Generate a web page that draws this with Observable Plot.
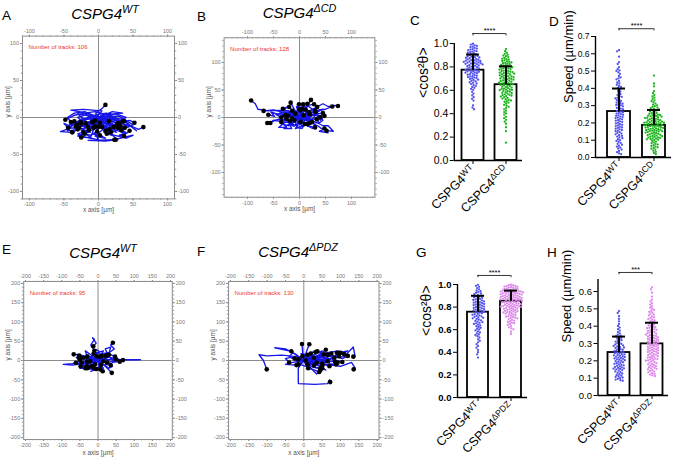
<!DOCTYPE html>
<html><head><meta charset="utf-8">
<script src="https://cdn.jsdelivr.net/npm/d3@7"></script>
<script src="https://cdn.jsdelivr.net/npm/@observablehq/plot@0.6"></script>
<style>
body{margin:0;background:#fff;}
#fig{position:relative;width:677px;height:460px;font-family:"Liberation Sans",Arial,sans-serif;overflow:hidden;background:#fff}
#fig svg{position:absolute;overflow:visible}
.lbl{position:absolute;font-size:13.5px;line-height:1;color:#000}
.ttl{position:absolute;font-size:15px;font-style:italic;line-height:1;transform:translateX(-50%);white-space:nowrap}
.ttl span{position:relative;top:-0.55em;font-size:0.72em}
</style></head><body><div id="fig"></div>
<script>
const FONT = '"Liberation Sans", Arial, sans-serif';
// ---------- data: track plots (µm) ----------
const trackCounts = [106, 128, 95, 130];
const tracksA = [
 [[0,0],[8,5],[-5,8],[-20,6],[-35,3],[-48,-3]],
 [[0,0],[5,-4],[20,-2],[35,-6],[45,-4],[52,-7]],
 [[0,0],[12,-3],[30,-8],[48,-12],[58,-16],[65,-13]],
 [[0,0],[-4,6],[5,12],[10,17]],
 [[0,0],[-10,-5],[-25,-10],[-30,-16],[-38,-20]],
 [[0,0],[10,-8],[25,-14],[40,-20],[30,-24],[37,-25]],
 [[0,0],[-8,-10],[-18,-18],[-30,-22],[-20,-26],[-25,-27]],
 [[0,0],[6,-12],[15,-20],[28,-30],[10,-32],[-15,-31],[25,-30]],
 [[0,0],[-6,-8],[-20,-12],[-33,-12]],
 [[0,0],[15,2],[28,-3],[35,-5]],
 [[0,0],[-12,4],[-28,8],[-40,10],[-22,11],[5,9],[-8,-6]],
 [[0,0],[20,8],[35,6],[15,4],[22,-13]],
 [[0,0],[-5,-15],[-15,-13]],
 [[0,0],[4,-10],[5,-13]],
 [[0,0],[-15,-20],[-30,-25],[-10,-28],[-22,-20]],
 [[0,0],[12,-10],[25,-12],[33,-17]],
 [[0,0],[-20,-3],[-35,-8],[-45,-18],[-30,-16]],
 [[0,0],[10,-15],[20,-18],[10,-18]],
 [[0,0],[30,2],[50,-10],[40,-14],[32,-12]],
 [[0,0],[-10,2],[-25,-4],[-5,-12]],
 [[0,0],[18,-5],[27,-8]],
 [[0,0],[-20,-15],[-40,-14],[-55,-19],[-38,-20]],
 [[0,0],[15,-22],[40,-28],[50,-24],[23,-30]],
 [[0,0],[-2,-20],[-12,-24],[-20,-22]],
 [[0,0],[8,4],[18,6],[15,-5]],
 [[0,0],[-30,5],[-15,-8],[-9,-6]],
 [[0,0],[25,-18],[18,-20]],
 [[0,0],[-12,-28],[0,-30],[-5,-22],[0,-13]],
 [[0,0],[35,-2],[55,-18],[37,-5]],
 [[0,0],[-25,-12],[-31,-10]],
 [[0,0],[-15,5],[-30,0],[-20,-8],[-35,-5]],
 [[0,0],[10,5],[25,0],[12,-8],[28,-10]],
 [[0,0],[-8,-3],[-22,-10],[-10,-15],[-18,-8]],
 [[0,0],[6,-6],[18,-12],[8,-20],[20,-24],[12,-22]],
 [[0,0],[-12,-6],[-25,-18],[-12,-20],[-28,-14]],
 [[0,0],[15,-3],[5,-10],[22,-16],[30,-8]],
 [[0,0],[-5,3],[-18,-2],[-32,-6],[-42,-10],[-25,-8]],
 [[0,0],[20,-10],[35,-18],[42,-10],[28,-14]],
 [[0,0],[-10,-10],[0,-18],[-8,-22],[4,-25],[-2,-19]],
 [[0,0],[12,6],[-2,4],[-15,1],[-5,-4]],
 [[0,0],[25,5],[40,0],[30,-6],[45,-12],[38,-14]],
 [[0,0],[-20,8],[-35,6],[-45,0],[-40,-6]],
 [[0,0],[8,-15],[-5,-25],[10,-28],[2,-24]],
 [[0,0],[-18,-8],[-6,-16],[-24,-22],[-14,-17]],
 [[0,0],[18,-8],[10,-14],[26,-20],[16,-16]],
 [[0,0],[-25,-2],[-40,-12],[-50,-8],[-44,-14]],
 [[0,0],[10,-2],[-5,-8],[12,-12],[2,-7]],
 [[0,0],[-3,-5],[-12,-2],[-2,-10],[-7,-14]],
 [[0,0],[30,-5],[20,-15],[40,-22],[45,-18]],
 [[0,0],[-15,-12],[-30,-8],[-18,-3],[-26,-6]]
];
const tracksB = [
 [[0,0],[-20,12],[-40,13],[-60,12],[-80,15],[-85,25],[-93,31]],
 [[0,0],[-25,8],[-50,14],[-69,12]],
 [[0,0],[-20,-5],[-40,-3],[-55,-8],[-62,-10]],
 [[0,0],[-15,-10],[-30,-8],[-50,-5],[-56,-10]],
 [[0,0],[-10,15],[-17,27]],
 [[0,0],[-5,12],[-1,24]],
 [[0,0],[5,15],[7,24]],
 [[0,0],[15,20],[22,32]],
 [[0,0],[20,10],[34,19]],
 [[0,0],[25,15],[45,25],[55,20],[63,20]],
 [[0,0],[30,12],[50,15],[68,22],[74,21]],
 [[0,0],[20,-5],[35,-10],[45,-15],[55,-15],[65,-25],[52,-24]],
 [[0,0],[15,-5],[30,-2],[40,1]],
 [[0,0],[20,5],[45,8]],
 [[0,0],[10,-5],[24,-8]],
 [[0,0],[5,2],[8,4]],
 [[0,0],[-5,5],[-8,7]],
 [[0,0],[-15,3],[-27,4]],
 [[0,0],[-10,-2],[-14,-2]],
 [[0,0],[1,8],[2,13]],
 [[0,0],[10,7],[18,10]],
 [[0,0],[20,8],[31,10]],
 [[0,0],[-10,10],[-20,19]],
 [[0,0],[8,12],[15,25]],
 [[0,0],[-12,-8],[-25,-15],[-30,-20],[-15,-20],[-20,-10],[-5,-15],[-10,-5]],
 [[0,0],[-20,-15],[-35,-12],[-35,-5],[-25,-2]],
 [[0,0],[15,-15],[25,-20],[30,-12],[20,-10]],
 [[0,0],[35,5],[45,-5],[38,-10],[33,-3]],
 [[0,0],[-30,10],[-45,5],[-35,0]],
 [[0,0],[-5,-18],[5,-20],[10,-12]],
 [[0,0],[-15,8],[-30,15],[-20,20],[-32,16]],
 [[0,0],[12,8],[25,15],[15,22],[28,24]],
 [[0,0],[-8,-8],[-20,-12],[-10,-16],[-18,-6]],
 [[0,0],[10,-10],[25,-8],[15,-15],[30,-18]],
 [[0,0],[-20,5],[-10,-5],[-30,-5],[-22,3]],
 [[0,0],[20,0],[30,8],[40,-5],[48,3]],
 [[0,0],[5,10],[-5,18],[10,20],[0,15]],
 [[0,0],[-5,-10],[8,-15],[-8,-20],[2,-8]],
 [[0,0],[15,10],[5,5],[22,4],[12,14]],
 [[0,0],[-12,2],[-25,10],[-38,8],[-28,4]],
 [[0,0],[25,-3],[35,10],[45,15],[30,12]],
 [[0,0],[-10,12],[0,8],[-6,20],[6,16]],
 [[0,0],[-30,-10],[-40,-18],[-25,-18],[-35,-8]],
 [[0,0],[8,-3],[18,-2],[10,5],[20,6]],
 [[0,0],[-18,-3],[-8,5],[-22,8],[-14,12]],
 [[0,0],[35,-15],[45,-22],[38,-25],[55,-28],[48,-20]],
 [[0,0],[-40,5],[-55,10],[-48,2],[-60,5]],
 [[0,0],[2,-5],[12,-3],[6,-10],[16,-12]]
];
const tracksE = [
 [[0,0],[-20,5],[-35,10],[-50,15],[-67,16]],
 [[0,0],[-25,-5],[-45,-8],[-61,-6]],
 [[0,0],[-20,3],[-40,8],[-53,7]],
 [[0,0],[-15,-10],[-31,-15]],
 [[0,0],[-10,-12],[-27,-19]],
 [[0,0],[-8,-8],[-18,-15]],
 [[0,0],[-5,-6],[-8,-10]],
 [[0,0],[-2,5],[-4,11]],
 [[0,0],[10,8],[24,13]],
 [[0,0],[8,-2],[15,-2]],
 [[0,0],[-5,20],[-20,40],[-10,55],[-15,59],[-5,45],[-13,37]],
 [[0,0],[15,10],[30,20],[45,30],[35,40],[41,46]],
 [[0,0],[20,5],[35,15],[47,10]],
 [[0,0],[40,3],[80,2],[117,2],[69,1]],
 [[0,0],[20,-15],[38,-32]],
 [[0,0],[5,-15],[13,-28]],
 [[0,0],[-40,-8],[-70,-12],[-96,-10],[-70,-8],[-50,0],[-41,7]],
 [[0,0],[-30,10],[-52,13]],
 [[0,0],[3,-12],[6,-23]],
 [[0,0],[-10,2],[-22,-2]],
 [[0,0],[15,-10],[30,-20],[40,-15],[25,-5]],
 [[0,0],[25,20],[20,30],[35,35],[30,15]],
 [[0,0],[-30,-10],[-50,-20],[-35,-20]],
 [[0,0],[10,15],[-5,20],[15,25],[5,10]],
 [[0,0],[-20,15],[-35,25],[-30,10]],
 [[0,0],[-20,10],[-35,0],[-25,-10],[-45,-5]],
 [[0,0],[15,5],[30,0],[20,-10],[35,-12]],
 [[0,0],[-10,-5],[-25,-15],[-15,-22],[-30,-20]],
 [[0,0],[5,10],[-10,15],[-20,8],[-12,18]],
 [[0,0],[-30,5],[-45,12],[-60,8],[-50,2]],
 [[0,0],[10,-8],[0,-18],[15,-20],[8,-12]],
 [[0,0],[-15,0],[-5,-10],[-20,-12],[-10,-20]],
 [[0,0],[20,10],[10,18],[30,20],[22,12]],
 [[0,0],[-40,-2],[-55,-8],[-35,-12],[-48,-15]],
 [[0,0],[25,-5],[45,-2],[35,5],[50,3]],
 [[0,0],[-8,15],[5,22],[-3,28],[-10,25]],
 [[0,0],[-25,-20],[-10,-25],[-20,-28],[-5,-22]],
 [[0,0],[12,0],[5,6],[18,5],[10,12]],
 [[0,0],[-18,5],[-28,15],[-38,5],[-30,-3]],
 [[0,0],[30,8],[55,5],[40,-5],[60,-3]]
];
const tracksF = [
 [[0,0],[-20,15],[-50,30],[-79,33],[-34,24]],
 [[0,0],[-20,10],[-60,14],[-100,12],[-122,15],[-110,0],[-101,-23]],
 [[0,0],[-3,20],[-5,43]],
 [[0,0],[8,25],[15,42]],
 [[0,0],[10,-20],[30,-25],[42,-30]],
 [[0,0],[-15,-20],[-15,-60],[30,-62],[65,-60],[70,-50],[72,-56]],
 [[0,0],[-8,-5],[-15,-10]],
 [[0,0],[-8,2],[-15,3]],
 [[0,0],[5,-5],[10,-10]],
 [[0,0],[15,-8],[28,-13]],
 [[0,0],[30,-10],[51,-13]],
 [[0,0],[40,10],[70,5],[83,7]],
 [[0,0],[50,15],[80,12],[96,11]],
 [[0,0],[60,-5],[90,0],[105,-4]],
 [[0,0],[60,20],[95,25],[110,16]],
 [[0,0],[30,10],[55,16]],
 [[0,0],[20,20],[37,24]],
 [[0,0],[10,12],[19,18]],
 [[0,0],[40,0],[65,-2]],
 [[0,0],[-2,8],[-4,11]],
 [[0,0],[3,1],[5,0]],
 [[0,0],[15,5],[28,7]],
 [[0,0],[50,-8],[80,-12],[92,-6]],
 [[0,0],[70,5],[110,10],[135,35],[140,10],[135,10]],
 [[0,0],[60,-10],[100,-15],[130,-5],[140,-20],[136,-23]],
 [[0,0],[-30,-5],[-50,-10],[-20,-12]],
 [[0,0],[20,-20],[35,-35],[45,-25]],
 [[0,0],[-30,20],[-40,10],[-25,5]],
 [[0,0],[100,15],[120,25],[90,20]],
 [[0,0],[45,-15],[60,-25],[50,-20]],
 [[0,0],[20,10],[40,5],[30,-5],[50,-8]],
 [[0,0],[15,-5],[35,-10],[25,-18],[45,-20]],
 [[0,0],[30,15],[50,25],[45,10],[65,15]],
 [[0,0],[10,5],[25,15],[15,20],[32,22]],
 [[0,0],[40,5],[60,-5],[75,5],[85,-3]],
 [[0,0],[-10,5],[5,12],[-8,18],[10,15]],
 [[0,0],[20,-15],[40,-20],[55,-10],[70,-15]],
 [[0,0],[50,10],[70,20],[85,10],[100,20]],
 [[0,0],[-10,-10],[5,-15],[20,-8],[12,-20]],
 [[0,0],[25,0],[45,12],[60,5],[75,18]],
 [[0,0],[35,-5],[55,5],[70,-8],[88,-10]],
 [[0,0],[15,15],[30,5],[48,20],[60,28]],
 [[0,0],[-20,0],[-35,8],[-50,5],[-40,-5]],
 [[0,0],[60,0],[85,10],[105,5],[120,12]],
 [[0,0],[10,-3],[22,2],[18,-8],[35,-5]]
];
const ticksAB = [-100, -50, 0, 50, 100];
const ticksEF = [-200, -150, -100, -50, 0, 50, 100, 150, 200];

// ---------- data: bar / dot plots ----------
const catsCD = ["CSPG4^WT", "CSPG4^ΔCD"];
const catsPDZ = ["CSPG4^WT", "CSPG4^ΔPDZ"];
const cWT = [0.998,0.991,0.984,0.979,0.973,0.968,0.962,0.957,
0.952,0.948,0.944,0.939,0.934,0.931,0.926,0.921,0.917,0.912,0.906,0.902,
0.898,0.894,0.891,0.887,0.884,0.881,0.878,0.874,0.871,0.868,0.864,0.861,0.858,0.855,0.853,0.851,
0.848,0.846,0.843,0.841,0.838,0.836,0.833,0.831,0.828,0.826,0.823,0.821,0.818,0.815,0.812,0.809,0.806,0.803,
0.798,0.795,0.791,0.787,0.784,0.781,0.777,0.774,0.771,0.768,0.764,0.761,0.758,0.755,0.752,0.751,
0.746,0.742,0.737,0.733,0.729,0.725,0.721,0.717,0.713,0.709,0.705,0.701,
0.697,0.691,0.686,0.681,0.676,0.669,0.664,0.658,0.653,
0.645,0.637,0.629,0.621,0.612,0.604,
0.587,0.572,0.556,0.541,0.527,0.512,
0.471,0.452,0.438];
const cCD = [0.952,0.934,0.921,0.912,0.903,
0.897,0.891,0.884,0.876,0.871,0.866,0.862,0.856,0.851,
0.847,0.843,0.838,0.834,0.831,0.827,0.823,0.818,0.814,0.811,0.806,0.803,0.801,
0.797,0.794,0.791,0.787,0.783,0.781,0.777,0.773,0.769,0.766,0.763,0.759,0.756,0.753,0.751,
0.748,0.745,0.742,0.738,0.735,0.732,0.728,0.725,0.722,0.719,0.716,0.713,0.709,0.706,0.703,0.701,
0.697,0.694,0.691,0.688,0.685,0.682,0.678,0.675,0.672,0.668,0.665,0.662,0.659,0.656,0.653,0.651,
0.647,0.643,0.639,0.635,0.631,0.627,0.623,0.619,0.615,0.612,0.608,0.605,0.603,0.601,
0.596,0.592,0.588,0.584,0.579,0.575,0.571,0.566,0.562,0.558,0.554,0.551,
0.546,0.541,0.535,0.529,0.524,0.518,0.513,0.507,0.502,
0.494,0.487,0.476,0.468,0.459,0.448,0.437,0.426,0.414,0.403,
0.392,0.373,0.362,0.348,0.332,0.314,
0.284,0.251,0.152];
const dWT = [0.621,0.614,0.583,0.552,
0.541,0.523,0.512,0.504,0.501,
0.493,0.484,0.472,0.463,0.458,0.452,
0.443,0.434,0.428,0.421,0.414,0.408,0.402,
0.394,0.386,0.381,0.373,0.366,0.361,0.354,0.351,
0.346,0.342,0.336,0.332,0.327,0.323,0.318,0.314,0.311,0.307,0.303,0.301,
0.296,0.292,0.287,0.283,0.279,0.274,0.268,0.265,0.261,0.257,0.254,0.251,
0.247,0.244,0.241,0.237,0.234,0.231,0.228,0.224,0.221,0.216,0.213,0.209,0.205,0.201,
0.197,0.193,0.189,0.186,0.182,0.178,0.174,0.171,0.167,0.163,0.159,0.155,0.152,
0.147,0.142,0.138,0.134,0.129,0.125,0.121,0.116,0.112,0.106,0.101,
0.096,0.091,0.085,0.079,0.074,0.068,0.063,0.057,0.052,
0.046,0.038,0.031,0.024,0.019];
const dCD = [0.474,0.428,0.412,
0.384,0.372,0.361,0.353,
0.346,0.338,0.331,0.326,0.319,0.312,0.306,0.302,
0.297,0.293,0.289,0.285,0.281,0.278,0.274,0.271,0.267,0.263,0.259,0.256,0.253,0.251,
0.248,0.246,0.244,0.242,0.240,0.238,0.236,0.234,0.232,0.230,0.228,0.226,0.224,0.222,0.220,0.218,0.216,0.214,0.212,0.210,0.208,0.207,0.205,0.204,0.203,0.202,0.201,
0.199,0.197,0.196,0.194,0.193,0.191,0.189,0.188,0.186,0.184,0.183,0.181,0.179,0.178,0.176,0.175,0.173,0.171,0.169,0.168,0.166,0.164,0.163,0.161,0.159,0.158,0.156,0.155,0.153,0.152,0.151,
0.148,0.146,0.144,0.142,0.139,0.137,0.135,0.133,0.131,0.129,0.127,0.125,0.123,0.121,0.119,0.117,0.115,0.113,0.111,0.109,0.107,0.105,0.103,0.101,
0.097,0.092,0.088,0.083,0.079,0.075,0.071,0.067,0.063,0.059,0.055,0.051,
0.046,0.039,0.033,0.026,0.019];
const gWT = [0.997,0.988,0.979,0.968,0.957,
0.948,0.941,0.933,0.927,0.921,0.914,0.908,0.902,
0.896,0.891,0.887,0.882,0.877,0.872,0.868,0.863,0.859,0.855,0.851,
0.847,0.843,0.839,0.836,0.832,0.828,0.824,0.821,0.817,0.813,0.809,0.805,0.801,
0.797,0.793,0.789,0.786,0.782,0.778,0.774,0.771,0.767,0.763,0.759,0.755,0.751,
0.746,0.741,0.737,0.732,0.727,0.723,0.718,0.714,0.709,0.705,0.701,
0.695,0.689,0.683,0.678,0.672,0.667,0.661,0.656,0.651,
0.645,0.638,0.631,0.624,0.617,0.609,0.602,
0.594,0.585,0.576,0.567,0.558,0.551,
0.542,0.531,0.515,0.502,0.488,0.472,0.456,
0.441,0.422,0.401,0.382,0.353];
const gPDZ = [0.998,0.994,0.991,0.988,0.985,0.982,0.979,0.976,0.973,0.970,0.967,0.964,0.961,0.958,0.955,0.952,
0.949,0.947,0.945,0.943,0.941,0.939,0.937,0.935,0.933,0.931,0.929,0.927,0.925,0.923,0.921,0.919,0.917,0.915,0.913,0.911,0.909,0.906,0.904,0.902,
0.899,0.897,0.895,0.893,0.891,0.889,0.887,0.885,0.883,0.881,0.879,0.877,0.875,0.873,0.871,0.869,0.867,0.865,0.863,0.861,0.859,0.856,0.854,0.851,
0.848,0.846,0.843,0.841,0.838,0.836,0.833,0.831,0.828,0.826,0.823,0.821,0.818,0.816,0.813,0.811,0.809,0.807,0.805,0.803,0.802,0.801,
0.797,0.794,0.791,0.788,0.785,0.782,0.779,0.776,0.773,0.770,0.767,0.764,0.761,0.758,0.755,0.753,0.751,
0.746,0.741,0.737,0.733,0.728,0.724,0.719,0.715,0.711,0.707,0.704,0.701,
0.694,0.687,0.681,0.675,0.668,0.662,0.657,0.651,
0.643,0.632,0.621,0.612,0.603,0.584,0.563];
const hWT = [0.487,0.476,0.458,
0.442,0.428,0.413,0.401,
0.392,0.383,0.374,0.366,0.358,0.351,
0.346,0.342,0.337,0.333,0.328,0.324,0.319,0.315,0.311,0.306,0.302,
0.298,0.295,0.292,0.289,0.286,0.283,0.280,0.277,0.274,0.271,0.267,0.264,0.261,0.258,0.255,0.252,
0.249,0.247,0.244,0.242,0.239,0.237,0.234,0.232,0.229,0.227,0.224,0.222,0.219,0.217,0.214,0.212,0.209,0.207,0.204,0.201,
0.198,0.195,0.192,0.189,0.186,0.183,0.180,0.177,0.174,0.171,0.168,0.165,0.162,0.159,0.157,0.155,0.153,0.151,
0.147,0.143,0.139,0.135,0.131,0.127,0.123,0.119,0.115,0.111,0.107,0.104,0.101,
0.096,0.092,0.088,0.085];
const hPDZ = [0.624,0.612,0.593,0.571,0.553,
0.543,0.532,0.524,0.515,0.507,0.501,
0.494,0.489,0.483,0.478,0.472,0.467,0.462,0.456,0.451,
0.446,0.442,0.438,0.434,0.429,0.425,0.421,0.417,0.413,0.409,0.405,0.401,
0.397,0.394,0.391,0.388,0.385,0.382,0.379,0.376,0.373,0.369,0.366,0.363,0.360,0.357,0.354,0.351,
0.348,0.346,0.343,0.341,0.338,0.336,0.333,0.331,0.328,0.326,0.323,0.321,0.318,0.316,0.313,0.311,0.308,0.306,0.303,0.301,
0.298,0.296,0.293,0.291,0.288,0.286,0.283,0.281,0.278,0.276,0.273,0.271,0.268,0.266,0.263,0.261,0.258,0.256,0.253,0.251,
0.247,0.244,0.241,0.238,0.236,0.233,0.230,0.227,0.224,0.222,0.219,0.216,0.213,0.210,0.208,0.205,0.203,0.201,
0.197,0.193,0.190,0.187,0.183,0.180,0.177,0.173,0.170,0.167,0.163,0.160,0.157,0.154,0.151,
0.146,0.142,0.138,0.134,0.129,0.125,0.121,0.116,0.112];
const meansC = [0.772, 0.648], sdsC = [0.134, 0.157];
const meansD = [0.266, 0.186], sdsD = [0.133, 0.089];
const meansG = [0.755, 0.852], sdsG = [0.145, 0.094];
const meansH = [0.248, 0.298], sdsH = [0.092, 0.122];
const ticksCG = [0, 0.2, 0.4, 0.6, 0.8, 1.0];
const ticksD = [0, 0.1, 0.2, 0.3, 0.4, 0.5, 0.6, 0.7];
const ticksH = [0, 0.1, 0.2, 0.3, 0.4, 0.5, 0.6];

// ---------- helpers ----------
const fig = document.getElementById("fig");
const SVGNS = "http://www.w3.org/2000/svg";
function place(svg, left, top) {
  svg.style.left = left + "px"; svg.style.top = top + "px";
  fig.appendChild(svg);
}
function supify(svg) {
  svg.querySelectorAll("text").forEach(t => {
    if (t.children.length || !t.textContent.includes("^")) return;
    const [a, b] = t.textContent.split("^");
    t.textContent = a;
    const ts = document.createElementNS(SVGNS, "tspan");
    ts.setAttribute("dy", "-0.45em");
    ts.style.fontSize = "0.7em";
    ts.textContent = b;
    t.appendChild(ts);
  });
}
function trackPanel(o) {
  const pts = o.tracks.flatMap((t, i) => t.map(([x, y]) => ({id: i, x, y})));
  const ends = o.tracks.map(t => ({x: t[t.length - 1][0], y: t[t.length - 1][1]}));
  const ax = {tickSize: 2, tickPadding: 1.5, fontSize: 5.5, color: "#777", label: null, tickFormat: d => String(d)};
  const mn = {tickSize: 1.3, color: "#999", label: null, tickFormat: () => ""};
  const minor = d3.range(-o.lim + (o.lim % 10), o.lim, 10);
  const svg = Plot.plot({
    width: o.width, height: o.height,
    marginLeft: o.mL, marginRight: o.mR, marginTop: o.mT, marginBottom: o.mB,
    style: {background: "none", fontFamily: FONT},
    x: {domain: [-o.lim, o.lim]}, y: {domain: [-o.lim, o.lim]},
    marks: [
      Plot.frame({stroke: "#8c8c8c"}),
      Plot.ruleX([0], {stroke: "#8c8c8c"}),
      Plot.ruleY([0], {stroke: "#8c8c8c"}),
      Plot.line(pts, {x: "x", y: "y", z: "id", stroke: "#1616e8", strokeWidth: 1.35}),
      Plot.dot(ends, {x: "x", y: "y", r: 2.3, fill: "black"}),
      Plot.axisX(o.ticks, {anchor: "top", ...ax}),
      Plot.axisX(o.ticks, {anchor: "bottom", ...ax}),
      Plot.axisY(o.ticks, {anchor: "left", ...ax}),
      Plot.axisY(o.ticks, {anchor: "right", ...ax}),
      Plot.axisX(minor, {anchor: "top", ...mn}),
      Plot.axisX(minor, {anchor: "bottom", ...mn}),
      Plot.axisY(minor, {anchor: "left", ...mn}),
      Plot.axisY(minor, {anchor: "right", ...mn}),
      Plot.text([`Number of tracks: ${o.count}`], {text: d => d, frameAnchor: "top-left", dx: 6, dy: 9, fill: "#ee3333", fontSize: 6, textAnchor: "start"}),
      Plot.text(["x axis [µm]"], {text: d => d, frameAnchor: "bottom", dy: o.xlDy, fill: "#555", fontSize: 6.5}),
      Plot.text(["y axis [µm]"], {text: d => d, frameAnchor: "left", dx: o.ylDx, rotate: -90, fill: "#555", fontSize: 6.5})
    ]
  });
  place(svg, o.left, o.top);
}
function barPanel(o) {
  const pts = o.cats.flatMap((c, i) => o.values[i].map(v => ({g: c, v})));
  const stats = o.cats.map((c, i) => ({g: c, mean: o.means[i], hi: o.means[i] + o.sds[i]}));
  const step = (o.width - o.mL - o.mR) / o.cats.length;
  const ppu = step / 2;
  const capH = 6.5 / ppu;
  const axX = -1 - o.gap / ppu;
  const [y0, y1] = o.yDomain;
  const lw = 1.4;
  const svg = Plot.plot({
    width: o.width, height: o.height,
    marginLeft: o.mL, marginRight: o.mR, marginTop: o.mT, marginBottom: o.mB,
    style: {background: "none", fontFamily: FONT, color: "#000"},
    fx: {domain: o.cats, padding: 0, label: null},
    x: {domain: [-1, 1], axis: null},
    y: {domain: o.yDomain, axis: null},
    color: {domain: o.cats, range: o.colors},
    marks: [
      Plot.barY(stats, {fx: "g", y: "mean", fill: "white", stroke: "black", strokeWidth: 1.8, insetLeft: o.inset, insetRight: o.inset}),
      Plot.dot(pts, Plot.dodgeX({anchor: "middle", padding: 0}, {fx: "g", y: "v", r: 1.15, fill: "g"})),
      Plot.ruleX(stats, {fx: "g", x: 0, y1: "mean", y2: "hi", stroke: "black", strokeWidth: 2}),
      Plot.ruleY(stats, {fx: "g", y: "hi", x1: -capH, x2: capH, stroke: "black", strokeWidth: 2}),
      Plot.ruleX([o.cats[0]], {fx: d => d, x: axX, y1: y0, y2: y1, strokeWidth: lw}),
      Plot.ruleY([o.cats[0]], {fx: d => d, y: 0, x1: axX, x2: 1, strokeWidth: lw}),
      Plot.ruleY([o.cats[1]], {fx: d => d, y: 0, x1: -1, x2: 1, strokeWidth: lw}),
      Plot.axisY(o.yTicks, {anchor: "left", dx: -o.gap, tickSize: 4, tickPadding: 2, tickFormat: d3.format(".1f"), fontSize: o.tickFont, fontWeight: o.bold ? "bold" : "normal", label: null}),
      Plot.axisFx({anchor: "bottom", tickRotate: -45, tickSize: 4, tickPadding: 3, fontSize: o.catFont, label: null}),
      Plot.ruleY([o.sigY], {fx: () => o.cats[0], y: d => d, x1: 0, x2: 1, strokeWidth: 0.8}),
      Plot.ruleY([o.sigY], {fx: () => o.cats[1], y: d => d, x1: -1, x2: 0, strokeWidth: 0.8}),
      Plot.ruleX([o.sigY], {fx: () => o.cats[0], x: 0, y1: d => d, y2: d => d - o.sigDrop, strokeWidth: 0.8}),
      Plot.ruleX([o.sigY], {fx: () => o.cats[1], x: 0, y1: d => d, y2: d => d - o.sigDrop, strokeWidth: 0.8}),
      Plot.text([o.sig], {fx: () => o.cats[0], x: 1, y: o.sigY, dy: -3, text: d => d, fontSize: 7.5}),
      Plot.text([o.yLabel], {fx: () => o.cats[0], frameAnchor: "left", rotate: -90, dx: o.lDx, dy: o.lDy, fontSize: o.labelFont, text: d => d})
    ]
  });
  supify(svg);
  place(svg, o.left, o.top);
}

// ---------- panels ----------
trackPanel({tracks: tracksA, lim: 110, ticks: ticksAB, count: trackCounts[0], left: 0, top: 20, width: 190, height: 200, mL: 22, mR: 16, mT: 15.6, mB: 21.6, xlDy: 13.5, ylDx: -15});
trackPanel({tracks: tracksB, lim: 145, ticks: ticksAB, count: trackCounts[1], left: 190, top: 20, width: 200, height: 200, mL: 33.6, mR: 15.6, mT: 17.25, mB: 23.25, xlDy: 13.5, ylDx: -15});
trackPanel({tracks: tracksE, lim: 205, ticks: ticksEF, count: trackCounts[2], left: 0, top: 265, width: 190, height: 195, mL: 23.2, mR: 18.2, mT: 16, mB: 21, xlDy: 15.5, ylDx: -16});
trackPanel({tracks: tracksF, lim: 205, ticks: ticksEF, count: trackCounts[3], left: 190, top: 265, width: 200, height: 195, mL: 38.1, mR: 11.5, mT: 16, mB: 21, xlDy: 15.5, ylDx: -16});

barPanel({cats: catsCD, values: [cWT, cCD], means: meansC, sds: sdsC, colors: ["#5252ee", "#1cb41c"],
  yDomain: [0, 1], yTicks: ticksCG, yLabel: "<cos²θ>", sig: "****", sigY: 1.085, sigDrop: 0.02,
  left: 400, top: 20, width: 130, height: 205, mL: 55.25, mR: 7.75, mT: 23, mB: 65,
  inset: 5.5, gap: 2.25, tickFont: 10.5, catFont: 12.5, labelFont: 14, lDx: -33, lDy: -4, bold: false});
barPanel({cats: catsCD, values: [dWT, dCD], means: meansD, sds: sdsD, colors: ["#5252ee", "#1cb41c"],
  yDomain: [0, 0.7], yTicks: ticksD, yLabel: "Speed (µm/min)", sig: "****", sigY: 0.745, sigDrop: 0.013,
  left: 540, top: 10, width: 137, height: 210, mL: 61, mR: 6, mT: 26, mB: 63,
  inset: 6, gap: 6, tickFont: 8.5, catFont: 12.5, labelFont: 13, lDx: -33, lDy: 6, bold: false});
barPanel({cats: catsPDZ, values: [gWT, gPDZ], means: meansG, sds: sdsG, colors: ["#5252ee", "#dc88ea"],
  yDomain: [0, 1], yTicks: ticksCG, yLabel: "<cos²θ>", sig: "****", sigY: 1.08, sigDrop: 0.02,
  left: 400, top: 262, width: 135, height: 198, mL: 61, mR: 8, mT: 22, mB: 63,
  inset: 6, gap: 4, tickFont: 9.5, catFont: 12.5, labelFont: 14, lDx: -35, lDy: -5, bold: true});
barPanel({cats: catsPDZ, values: [hWT, hPDZ], means: meansH, sds: sdsH, colors: ["#5252ee", "#dc88ea"],
  yDomain: [0, 0.67], yTicks: ticksH, yLabel: "Speed (µm/min)", sig: "***", sigY: 0.71, sigDrop: 0.013,
  left: 540, top: 255, width: 137, height: 205, mL: 61.5, mR: 9.5, mT: 23.9, mB: 65,
  inset: 5.5, gap: 4.5, tickFont: 9.5, catFont: 12.5, labelFont: 13, lDx: -36, lDy: 5, bold: false});

// ---------- panel letters and titles ----------
const letters = [["A", 2, 9], ["B", 197, 10], ["C", 410, 14], ["D", 549, 15], ["E", 2, 243], ["F", 197, 245], ["G", 416, 246], ["H", 547, 246]];
letters.forEach(([t, x, y]) => {
  const d = document.createElement("div");
  d.className = "lbl"; d.textContent = t; d.style.left = x + "px"; d.style.top = y + "px";
  fig.appendChild(d);
});
const titles = [["CSPG4", "WT", 105, 5.6], ["CSPG4", "ΔCD", 299.5, 4.8], ["CSPG4", "WT", 103, 245.3], ["CSPG4", "ΔPDZ", 298, 244]];
titles.forEach(([a, b, x, y]) => {
  const d = document.createElement("div");
  d.className = "ttl"; d.style.left = x + "px"; d.style.top = y + "px";
  d.append(a);
  const s = document.createElement("span"); s.textContent = b; d.appendChild(s);
  fig.appendChild(d);
});
</script>
</body></html>
